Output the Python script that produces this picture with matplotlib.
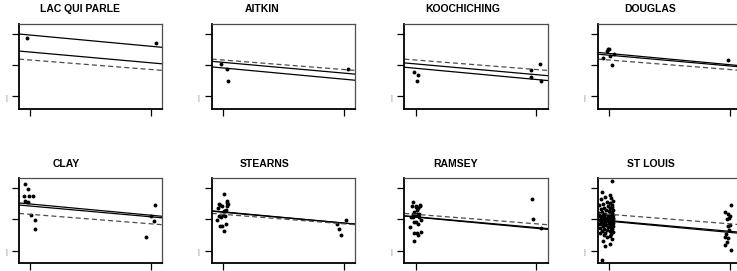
import numpy as np
import matplotlib
matplotlib.use('Agg')
import matplotlib.pyplot as plt

# counties in the order they are shown
counties = ['LAC QUI PARLE', 'AITKIN', 'KOOCHICHING', 'DOUGLAS',
            'CLAY', 'STEARNS', 'RAMSEY', 'ST LOUIS']

# floor (jittered) and log radon for each county
x_lac = [-0.030, 1.038]
y_lac = [2.76, 2.42]

x_ait = [-0.017, 0.032, 0.043, 1.035]
y_ait = [1.06, 0.76, 0.01, 0.76]

x_koo = [-0.014, 0.008, 0.022, 0.959, 0.959, 1.033, 1.038]
y_koo = [0.53, -0.01, 0.34, 0.68, 0.25, 1.05, -0.01]

x_dou = [-0.053, -0.020, -0.009, 0.002, 0.008, 0.024, 0.038, 0.985]
y_dou = [1.47, 1.90, 2.01, 2.03, 1.58, 0.98, 1.71, 1.30]

x_cla = [-0.047, -0.020, -0.050, -0.011, 0.019, -0.042, -0.022, 0.005, 0.041, 0.041,
         0.961, 0.997, 1.022, 1.032]
y_cla = [3.26, 2.96, 2.53, 2.53, 2.53, 2.17, 2.14, 1.27, 0.95, 0.39,
         -0.10, 1.24, 0.88, 1.91]

x_ste = [-0.050, -0.042, -0.036, -0.031, -0.028, -0.023, -0.017, -0.011, -0.006, -0.003,
         0.005, 0.008, 0.010, 0.013, 0.018, 0.024, 0.027, 0.030, 0.030, 0.032, 0.038,
         0.944, 0.961, 0.977, 1.018]
y_ste = [0.95, 1.76, 1.99, 1.21, 0.58, 1.93, 1.18, 0.60, 1.87, 1.29,
         2.65, 0.24, 1.56, 1.24, 1.54, 1.59, 0.73, 2.21, 1.87, 2.06, 1.97,
         0.73, 0.39, -0.01, 0.95]

x_ram = [-0.044, -0.041, -0.033, -0.025, -0.022, -0.020, -0.014, -0.014, -0.011, -0.011,
         -0.006, 0.000, 0.003, 0.005, 0.008, 0.011, 0.013, 0.017, 0.019, 0.022,
         0.027, 0.030, 0.036, 0.038, 0.044, 0.046, 0.967, 0.970, 1.041]
y_ram = [0.54, 1.18, 1.88, 2.10, 1.33, 1.16, 0.86, -0.38, 1.50, 0.15,
         1.29, 1.88, 0.82, 1.78, 0.15, 1.61, 1.35, 0.01, 1.76, 0.73,
         1.35, 1.16, 1.88, 1.93, 0.18, 0.99, 2.29, 1.01, 0.46]

x_stl = [0.024, -0.062, 0.010, -0.035, 0.018, -0.070, 0.030, -0.015, 0.005, -0.050,
         0.022, -0.080, -0.005, 0.028, -0.042, 0.012, -0.068, 0.035, -0.025, 0.000,
         -0.058, 0.016, -0.085, 0.026, -0.032, 0.008, -0.047, 0.032, -0.010, -0.074,
         0.020, -0.038, 0.003, -0.064, 0.029, -0.020, 0.013, -0.053, 0.036, -0.028,
         -0.078, 0.007, -0.044, 0.025, -0.012, -0.066, 0.017, -0.034, 0.031, -0.004,
         -0.056, 0.021, -0.083, 0.010, -0.026, 0.033, -0.048, -0.007, 0.023, -0.072,
         0.014, -0.039, 0.027, -0.018, -0.060, 0.004, 0.034, -0.030, -0.076, 0.019,
         -0.045, 0.011, -0.015, 0.026, -0.052, 0.006, -0.036, -0.058,
         1.008, 0.960, 0.985, 1.000, 0.995, 0.975, 1.005, 0.990, 0.998, 0.970,
         0.962, 0.985, 0.978, 0.965, 1.010]
y_stl = [3.45, 2.75, 2.55, 2.45, 2.40, 2.30, 2.20, 2.15, 2.05, 2.00,
         1.95, 1.90, 1.85, 1.80, 1.75, 1.72, 1.68, 1.62, 1.58, 1.55,
         1.50, 1.47, 1.42, 1.40, 1.36, 1.33, 1.30, 1.28, 1.25, 1.22,
         1.20, 1.18, 1.15, 1.12, 1.10, 1.08, 1.05, 1.03, 1.00, 0.98,
         0.96, 0.94, 0.92, 0.90, 0.88, 0.85, 0.83, 0.80, 0.78, 0.75,
         0.72, 0.70, 0.68, 0.65, 0.62, 0.60, 0.57, 0.54, 0.50, 0.47,
         0.44, 0.40, 0.36, 0.33, 0.28, 0.25, 0.20, 0.15, 0.10, 0.05,
         0.00, -0.08, -0.15, -0.25, -0.40, -0.55, -0.70, -1.60,
         1.90, 1.45, 1.35, 1.25, 1.12, 1.05, 0.62, 0.55, 0.35, 0.05,
         -0.10, -0.22, -0.42, -0.65, -0.95]

xs = [x_lac, x_ait, x_koo, x_dou, x_cla, x_ste, x_ram, x_stl]
ys = [y_lac, y_ait, y_koo, y_dou, y_cla, y_ste, y_ram, y_stl]

# fitted lines: no pooling, partial pooling (solid) and complete pooling (dashed)
a_nopool = [2.93, 0.82, 0.80, 1.75, 1.99, 1.49, 1.15, 0.89]
a_partial = [1.84, 1.18, 1.08, 1.64, 1.86, 1.46, 1.17, 0.93]
b_nopool = -0.72
b_partial = -0.69
a_pool = 1.33
b_pool = -0.61

W, H = 737, 271
fig = plt.figure(figsize=(W / 100, H / 100), dpi=100)
plt.rcParams['font.family'] = ['Liberation Sans', 'DejaVu Sans']

lefts = [19, 211.7, 404.3, 597.7]
tops = [24, 178.3]
aw, ah = 143.3, 84.8
title_x = [80, 262.5, 462.5, 649.8, 66.7, 264.2, 455.5, 651.3]

for i, name in enumerate(counties):
    row, col = divmod(i, 4)
    ax = fig.add_axes([lefts[col] / W, 1 - (tops[row] + ah) / H, aw / W, ah / H])

    ax.plot(xs[i], ys[i], 'o', color='black', ms=2.8, mew=0)
    ax.axline((0, a_nopool[i]), slope=b_nopool, color='black', lw=0.9)
    ax.axline((0, a_partial[i]), slope=b_partial, color='black', lw=0.9)
    ax.axline((0, a_pool), slope=b_pool, color='0.3', lw=0.9, dashes=(4, 2.5))

    ax.set_xlim(-0.094, 1.094)
    ax.set_ylim(-1.8, 3.64)
    ax.set_xticks([0, 1])
    ax.set_yticks([-1, 1, 3])
    ax.set_xticklabels([])
    ax.set_yticklabels([])
    ax.tick_params(length=5, width=0.9, color='black')
    for side in ['top', 'right']:
        ax.spines[side].set_linewidth(0.9)
        ax.spines[side].set_color('0.3')
    for side in ['left', 'bottom']:
        ax.spines[side].set_linewidth(1.3)

    # faint mark left of the lowest tick
    ax.text(-13 / aw, -1.15, '|', transform=ax.get_yaxis_transform(),
            fontsize=5, color='0.5', ha='center', va='center')

    fig.text(title_x[i] / W, 1 - (tops[row] - 14.5) / H, name,
             fontsize=7.5, fontweight='bold', ha='center', va='center')

fig.savefig('out.png', dpi=100)
